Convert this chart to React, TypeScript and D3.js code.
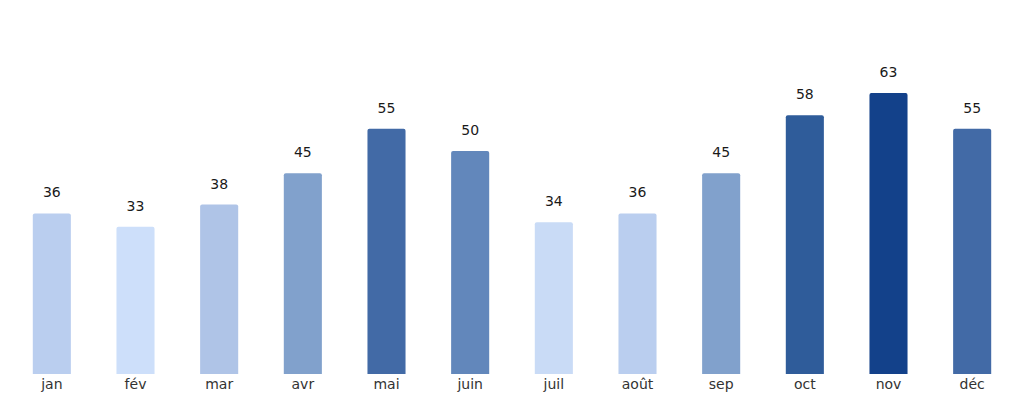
import { useRef, useEffect } from 'react';
import * as d3 from 'd3';

const months = ['jan', 'fév', 'mar', 'avr', 'mai', 'juin', 'juil', 'août', 'sep', 'oct', 'nov', 'déc'];
const values = [36, 33, 38, 45, 55, 50, 34, 36, 45, 58, 63, 55];

// colour ramp keyed by value
const colorStops = [33, 34, 36, 38, 45, 50, 55, 58, 63];
const colorRange = ['#cddffa', '#c9dbf6', '#baceef', '#afc4e7', '#81a1cc', '#6287bb', '#426aa6', '#2f5c9a', '#13418a'];

export default function App() {
  const ref = useRef<SVGSVGElement>(null);

  useEffect(() => {
    if (!ref.current) return;
    const width = 1024;
    const height = 404;
    const baseline = 374;

    d3.select(ref.current).selectAll('*').remove();
    const svg = d3.select(ref.current).attr('width', width).attr('height', height);

    const x = d3
      .scaleBand()
      .domain(months)
      .range([10, 1014])
      .paddingInner(0.545)
      .paddingOuter(0.2725);

    const y = d3.scaleLinear().domain([0, 63]).range([baseline, 93]);

    const color = d3.scaleLinear<string>().domain(colorStops).range(colorRange);

    const data = months.map((m, i) => ({ m, v: values[i] }));
    const r = 2;

    svg
      .selectAll('path.bar')
      .data(data)
      .join('path')
      .attr('class', 'bar')
      .attr('d', (d) => {
        const x0 = x(d.m) || 0;
        const x1 = x0 + x.bandwidth();
        const t = y(d.v);
        return `M${x0},${baseline}V${t + r}Q${x0},${t} ${x0 + r},${t}H${x1 - r}Q${x1},${t} ${x1},${t + r}V${baseline}Z`;
      })
      .attr('fill', (d) => color(d.v));

    svg
      .selectAll('text.val')
      .data(data)
      .join('text')
      .attr('class', 'val')
      .attr('x', (d) => (x(d.m) || 0) + x.bandwidth() / 2)
      .attr('y', (d) => y(d.v) - 16)
      .attr('text-anchor', 'middle')
      .attr('font-family', 'DejaVu Sans')
      .attr('font-size', 14)
      .attr('fill', '#1a1a1a')
      .text((d) => d.v);

    const axis = svg
      .append('g')
      .attr('transform', `translate(0,${baseline})`)
      .call(d3.axisBottom(x).tickSize(0).tickPadding(5));
    axis.select('.domain').remove();
    axis
      .selectAll('text')
      .attr('font-family', 'DejaVu Sans')
      .attr('font-size', 14)
      .attr('fill', '#333333');
  }, []);

  return (
    <div style={{ position: 'absolute', left: 0, top: 0 }}>
      <svg ref={ref}></svg>
    </div>
  );
}
